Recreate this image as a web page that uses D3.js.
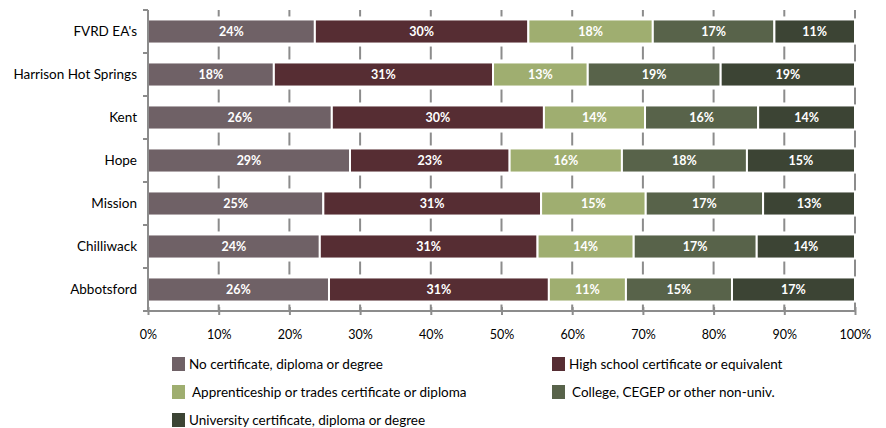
<!DOCTYPE html>
<html>
<head>
<meta charset="utf-8">
<script src="https://cdn.jsdelivr.net/npm/d3@7"></script>
<style>
  body { margin: 0; background: #fff; }
  svg text { font-family: Lato, "Open Sans", sans-serif; }
</style>
</head>
<body>
<div id="chart"></div>
<script>
// Education levels by community, 100% stacked bars

const categories = ["FVRD EA's", "Harrison Hot Springs", "Kent", "Hope", "Mission", "Chilliwack", "Abbotsford"];
const seriesNames = [
  "No certificate, diploma or degree",
  "High school certificate or equivalent",
  "Apprenticeship or trades certificate or diploma",
  "College, CEGEP  or other non-univ.",
  "University certificate, diploma or degree"
];
// percent values per category, one array per series
const noCert      = [23.6, 17.8, 26.0, 28.6, 24.8, 24.3, 25.6];
const highSchool  = [30.2, 31.0, 30.0, 22.6, 30.8, 30.8, 31.1];
const trades      = [17.6, 13.4, 14.3, 15.9, 14.8, 13.6, 10.9];
const college     = [17.2, 18.8, 16.0, 17.7, 16.6, 17.4, 15.0];
const university  = [11.4, 19.0, 13.7, 15.3, 13.0, 13.9, 17.4];
const xTicks = [0, 0.1, 0.2, 0.3, 0.4, 0.5, 0.6, 0.7, 0.8, 0.9, 1];

const colors = ["#6f6166", "#562d33", "#9fae70", "#58634a", "#3c4434"];

const [w, h] = [886, 428];
const [plotL, plotR, plotT, plotB] = [148, 855, 10, 311];
const gridColor = "#8c8c8c";

let seriesValues = [noCert, highSchool, trades, college, university];
let keys = seriesNames.map((s, i) => "s" + i);
let table = categories.map((c, j) => {
  let row = {cat: c};
  keys.forEach((k, i) => row[k] = seriesValues[i][j]);
  return row;
});

let stacked = d3.stack().keys(keys).offset(d3.stackOffsetExpand)(table);

const xScale = d3.scaleLinear().domain([0, 1]).range([plotL, plotR]);
const yScale = d3.scaleBand().domain(categories).range([plotT, plotB])
  .paddingInner(0.44).paddingOuter(0.22);

const svg = d3.select("#chart").append("svg")
  .attr("width", w)
  .attr("height", h);

// vertical gridlines
svg.append("g").selectAll("line")
  .data(xTicks.slice(1))
  .enter().append("line")
  .attr("x1", d => xScale(d)).attr("x2", d => xScale(d))
  .attr("y1", plotT).attr("y2", plotB)
  .attr("stroke", gridColor)
  .attr("stroke-width", 2);

// white halo behind each bar row
svg.append("g").selectAll("rect")
  .data(categories)
  .enter().append("rect")
  .attr("x", xScale(0) + 1)
  .attr("y", d => yScale(d) - 3)
  .attr("width", xScale(1) - xScale(0) - 2)
  .attr("height", yScale.bandwidth() + 6)
  .attr("fill", "#fff");

// bars
let layers = svg.append("g").selectAll("g")
  .data(stacked)
  .enter().append("g")
  .attr("fill", (d, i) => colors[i]);

layers.selectAll("rect")
  .data(d => d)
  .enter().append("rect")
  .attr("x", d => xScale(d[0]))
  .attr("y", d => yScale(d.data.cat))
  .attr("width", d => xScale(d[1]) - xScale(d[0]))
  .attr("height", yScale.bandwidth())
  .attr("stroke", "#fff")
  .attr("stroke-width", 2);

// data labels
layers.selectAll("text")
  .data((d, i) => d.map(v => ({v: v, key: keys[i]})))
  .enter().append("text")
  .attr("x", d => xScale((d.v[0] + d.v[1]) / 2))
  .attr("y", d => yScale(d.v.data.cat) + yScale.bandwidth() / 2)
  .attr("dy", "0.36em")
  .attr("text-anchor", "middle")
  .attr("fill", "#fff")
  .style("font-size", "12.5px")
  .style("font-weight", "bold")
  .text(d => Math.round(d.v.data[d.key]) + "%");

// x axis
const xAxis = d3.axisBottom(xScale)
  .tickValues(xTicks)
  .tickFormat(d3.format(".0%"))
  .tickSizeInner(4)
  .tickSizeOuter(0)
  .tickPadding(15);

let gx = svg.append("g")
  .attr("transform", `translate(0,${plotB})`)
  .call(xAxis);
gx.select(".domain").attr("stroke", gridColor).attr("stroke-width", 2)
  .attr("d", `M${plotL - 5},0H${plotR}`);
gx.selectAll(".tick line").attr("stroke", gridColor).attr("stroke-width", 2).attr("y1", -4);
gx.selectAll(".tick text").attr("fill", "#000").style("font-size", "12.5px");

// y axis: labels plus boundary ticks
let gy = svg.append("g");
gy.append("line")
  .attr("x1", plotL).attr("x2", plotL)
  .attr("y1", plotT).attr("y2", plotB)
  .attr("stroke", gridColor).attr("stroke-width", 2);
gy.selectAll("line.bound")
  .data(d3.range(categories.length))
  .enter().append("line")
  .attr("class", "bound")
  .attr("x1", plotL - 5).attr("x2", plotL)
  .attr("y1", i => plotT + i * yScale.step())
  .attr("y2", i => plotT + i * yScale.step())
  .attr("stroke", gridColor).attr("stroke-width", 2);
gy.selectAll("text")
  .data(categories)
  .enter().append("text")
  .attr("x", plotL - 11)
  .attr("y", d => yScale(d) + yScale.bandwidth() / 2)
  .attr("dy", "0.36em")
  .attr("text-anchor", "end")
  .attr("fill", "#000")
  .style("font-size", "13.5px")
  .text(d => d);

// legend
const legendX = [172, 552];
const legendY = [357, 385, 413];
let legend = svg.append("g").selectAll("g")
  .data(seriesNames)
  .enter().append("g")
  .attr("transform", (d, i) => `translate(${legendX[i % 2]},${legendY[Math.floor(i / 2)]})`);

legend.append("rect")
  .attr("width", 13).attr("height", 14)
  .attr("fill", (d, i) => colors[i]);

legend.append("text")
  .attr("x", (d, i) => i == 2 || i == 3 ? 20 : 17)
  .attr("y", 7)
  .attr("dy", "0.36em")
  .attr("fill", "#000")
  .style("font-size", "13.5px")
  .text(d => d);
</script>
</body>
</html>
